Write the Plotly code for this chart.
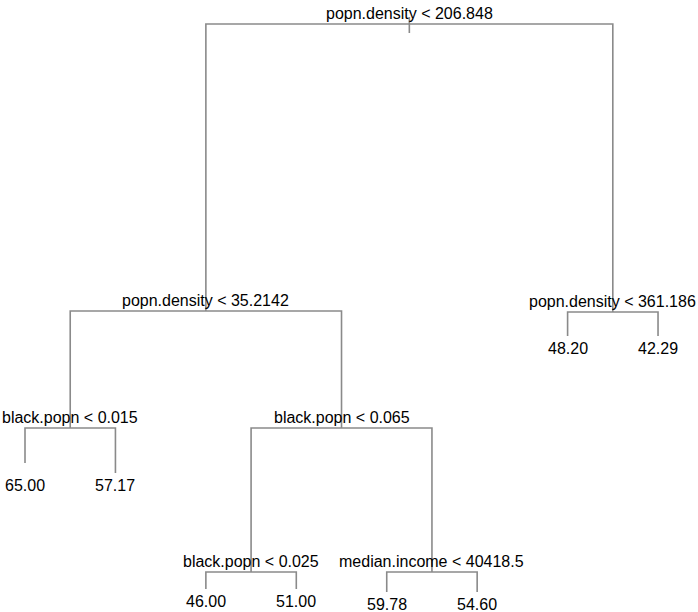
import plotly.graph_objects as go

# Regression tree: node ids use the usual binary numbering (children of n are 2n, 2n+1)
node_ids = [1, 2, 3, 4, 5, 6, 7, 8, 9, 10, 11, 20, 21, 22, 23]

# Split rules of the internal nodes
split_rules = {
    1: "popn.density < 206.848",
    2: "popn.density < 35.2142",
    3: "popn.density < 361.186",
    4: "black.popn < 0.015",
    5: "black.popn < 0.065",
    10: "black.popn < 0.025",
    11: "median.income < 40418.5",
}

# Fitted values at the terminal nodes
leaf_values = {
    8: 65.00, 9: 57.17,
    20: 46.00, 21: 51.00,
    22: 59.78, 23: 54.60,
    6: 48.20, 7: 42.29,
}

# Node heights on the deviance scale
node_dev = [14400, 7225, 7200, 4300, 4300, 6600, 6600, 3425, 3175,
            700, 700, 275, 275, 200, 200]

height = dict(zip(node_ids, node_dev))
ids = set(node_ids)


def children(n):
    return (2 * n, 2 * n + 1) if 2 * n in ids else None


# Leaves in left-to-right order get positions 1..k; parents sit midway between children
xpos = {}
counter = [0]


def place(n):
    ch = children(n)
    if ch is None:
        counter[0] += 1
        xpos[n] = counter[0]
    else:
        place(ch[0])
        place(ch[1])
        xpos[n] = (xpos[ch[0]] + xpos[ch[1]]) / 2


place(1)

# Branch segments
xs, ys = [], []
for n in node_ids:
    ch = children(n)
    if ch is None:
        continue
    l, r = ch
    xs += [xpos[l], xpos[l], xpos[r], xpos[r], None]
    ys += [height[l], height[n], height[n], height[r], None]
# short stem through the root
xs += [xpos[1], xpos[1], None]
ys += [height[1] + 175, height[1] - 225, None]

fig = go.Figure()
fig.add_trace(go.Scatter(
    x=xs, y=ys, mode="lines",
    line=dict(color="#8a8a8a", width=1.6),
    hoverinfo="skip", showlegend=False,
))

font = dict(family="Liberation Sans, Arial, Helvetica, sans-serif", size=16, color="#000000")
annotations = []
for n, rule in split_rules.items():
    annotations.append(dict(
        x=xpos[n], y=height[n], xref="x", yref="y", text=rule,
        showarrow=False, xanchor="center", yanchor="middle", yshift=11, font=font,
    ))
for n, v in leaf_values.items():
    sib = n + 1 if n % 2 == 0 else n - 1
    base = min(height[n], height[sib])
    annotations.append(dict(
        x=xpos[n], y=base, xref="x", yref="y", text=f"{v:.2f}",
        showarrow=False, xanchor="center", yanchor="middle", yshift=-12, font=font,
    ))

fig.update_layout(
    width=698, height=612,
    margin=dict(l=0, r=0, t=0, b=0),
    paper_bgcolor="white", plot_bgcolor="white",
    xaxis=dict(range=[0.7235, 8.442], visible=False, fixedrange=True),
    yaxis=dict(range=[-300, 15000], visible=False, fixedrange=True),
    annotations=annotations,
)

fig.write_html("out.html")
